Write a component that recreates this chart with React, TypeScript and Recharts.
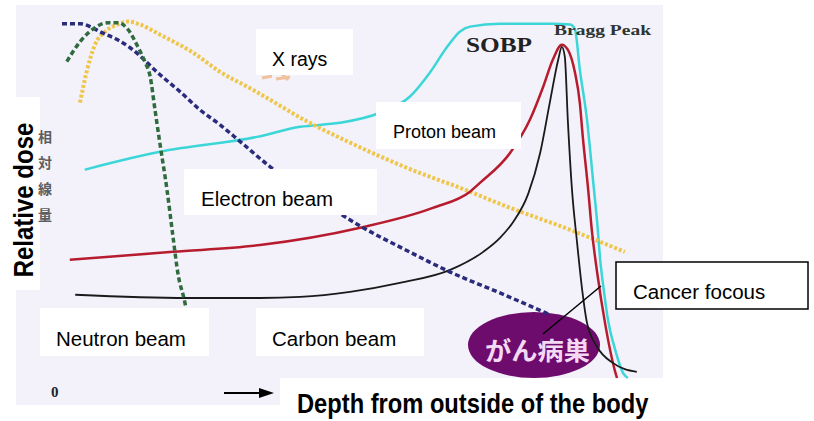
import { LineChart, Line, XAxis, YAxis } from "recharts"

// depth (0-100) vs relative dose (0-100)
const xrayDepth = [3, 4.2, 5.5, 7.2, 9.3, 11, 13, 16.3, 21.8, 26.3, 31.8, 41.3, 48, 57.5, 68, 73, 84.7, 93.8]
const xrayDose = [76.4, 85.6, 92.5, 96.1, 98.1, 98.9, 98.1, 95.3, 90.3, 85, 80, 70.8, 65.3, 58.3, 51.7, 48.3, 41.1, 35]

const electronDepth = [0, 3, 4.7, 6.3, 9.2, 11.3, 16.3, 19.7, 23, 26.3, 29.7, 34.7, 41.3, 50.2, 57.2, 64.7, 73, 78.8, 81]
const electronDose = [98.3, 98.3, 97.5, 96.1, 93.9, 91.7, 84.2, 79.4, 74.4, 70.3, 65.6, 58.6, 51.1, 41.7, 35.6, 29.4, 23.6, 19.4, 17.8]

const neutronDepth = [0.8, 3, 5.5, 7.7, 9.3, 11, 12.7, 13.8, 14.7, 15.5, 16.3, 17.5, 18.5, 19.3, 20.5, 21.3]
const neutronDose = [87.8, 93.3, 97.2, 98.6, 98.6, 96.7, 91.7, 87.8, 83.6, 74.4, 65.3, 52.2, 39.2, 29.2, 20.8, 13.3]

const sobpDepth = [3.8, 6.3, 16.3, 32.5, 39.7, 46.3, 53, 58, 61.3, 64.2, 66.3, 68, 73, 81.8, 84.7, 85.5, 86.3, 87.5, 88.5, 89.2, 89.7, 90.3, 91, 92.2, 93.5, 94.3]
const sobpDose = [57.8, 58.9, 62.8, 66.9, 69.7, 70.8, 73.6, 78.1, 84.7, 91.9, 96.1, 97.5, 98.3, 98.3, 98.1, 96.7, 85.6, 71.7, 55, 43.1, 32.8, 24.4, 16.1, 7.8, 1.4, 0]

const protonDepth = [1.3, 18.5, 33, 49.7, 61.8, 68, 69.7, 74.7, 78, 80.2, 81.8, 83.3, 84.3, 85.5, 86.3, 86.8, 87.7, 88.3, 89.2, 90.5, 92.2, 92.5]
const protonDose = [32.8, 35, 36.9, 41.7, 47.2, 51.7, 54.2, 62.5, 71.7, 80.8, 88.3, 92.5, 91.1, 84.7, 76.4, 66.9, 52.2, 41.1, 29.2, 15.3, 1.7, 0]

const carbonDepth = [2.2, 20.8, 33, 39.7, 48, 56.3, 64.7, 70.2, 73, 75.2, 77.7, 79.7, 81.3, 82.7, 83.3, 83.8, 84.3, 85, 85.8, 86.7, 87.5, 89.2, 91.8, 95.8]
const carbonDose = [23.1, 22.2, 22.2, 22.5, 23.9, 26.4, 30, 35, 38.9, 43.3, 51.1, 62.5, 76.4, 88.3, 91.9, 89.2, 71.7, 52.2, 38.3, 24.4, 15.3, 8.6, 4.2, 1.7]

const zip = (xs: number[], ys: number[]) => xs.map((x, i) => ({ x, y: ys[i] }))

const sans = "Arial, 'Liberation Sans', sans-serif"
const serif = "'Times New Roman', 'Liberation Serif', serif"

function Box({ x, y, w, h, border }: { x: number; y: number; w: number; h: number; border?: boolean }) {
  return <rect x={x} y={y} width={w} height={h} fill="#fff" stroke={border ? "#000" : "none"} strokeWidth={1.5} />
}

export default function App() {
  return (
    <div style={{ position: "absolute", left: 0, top: 0, width: 814, height: 421, background: "#fff" }}>
      <svg width={814} height={421} style={{ position: "absolute", left: 0, top: 0 }}>
        <rect x={16} y={5} width={647} height={373} fill="#f3f2fb" />
        <rect x={16} y={378} width={264} height={27} fill="#f3f2fb" />
        <rect x={0} y={97} width={40} height={193} fill="#fff" />
        {["相", "対", "線", "量"].map((c, i) => (
          <text key={c} x={38} y={142 + i * 26} fontSize={14} fill="#444" opacity={0.85} fontFamily="'Noto Sans CJK JP'" fontWeight="bold">
            {c}
          </text>
        ))}
        <ellipse cx={534} cy={345} rx={66} ry={33} fill="#6e0c6e" />
      </svg>

      <div style={{ position: "absolute", left: 0, top: 0 }}>
        <LineChart width={814} height={421} margin={{ top: 14, right: 152, bottom: 43, left: 62 }}>
          <XAxis dataKey="x" type="number" domain={[0, 100]} tick={false} height={0} axisLine={{ stroke: "#999", strokeWidth: 2 }} tickLine={false} />
          <YAxis type="number" domain={[0, 101]} tick={false} width={0} axisLine={{ stroke: "#999", strokeWidth: 2 }} tickLine={false} />
          <Line data={zip(sobpDepth, sobpDose)} dataKey="y" type="monotone" stroke="#3cd6d8" strokeWidth={2.5} dot={false} isAnimationActive={false} />
          <Line data={zip(xrayDepth, xrayDose)} dataKey="y" type="monotone" stroke="#efc64c" strokeWidth={4} strokeDasharray="3 2" dot={false} isAnimationActive={false} />
          <Line data={zip(protonDepth, protonDose)} dataKey="y" type="monotone" stroke="#b71c2e" strokeWidth={2.5} dot={false} isAnimationActive={false} />
          <Line data={zip(carbonDepth, carbonDose)} dataKey="y" type="monotone" stroke="#1a1a1a" strokeWidth={1.8} dot={false} isAnimationActive={false} />
          <Line data={zip(electronDepth, electronDose)} dataKey="y" type="monotone" stroke="#2b2b7c" strokeWidth={3.5} strokeDasharray="5 3" dot={false} isAnimationActive={false} />
          <Line data={zip(neutronDepth, neutronDose)} dataKey="y" type="monotone" stroke="#2f6b3c" strokeWidth={3.5} strokeDasharray="5 3" dot={false} isAnimationActive={false} />
        </LineChart>
      </div>

      <svg width={814} height={421} style={{ position: "absolute", left: 0, top: 0 }}>
        <path d="M262 78 L272 76 M276 79 L290 77 M282 74 L288 80" stroke="#f0a060" strokeWidth={3} opacity={0.6} />
        <Box x={256} y={29} w={97} h={46} />
        <Box x={376} y={102} w={145} h={47} />
        <Box x={184} y={169} w={193} h={46} />
        <Box x={40} y={308} w={169} h={48} />
        <Box x={256} y={308} w={168} h={48} />
        <Box x={616} y={262} w={192} h={47} border />
        <g fontFamily={sans} fill="#000">
          <text x={272} y={66} fontSize={19.5}>X rays</text>
          <text x={393} y={138} fontSize={18}>Proton beam</text>
          <text x={201} y={206} fontSize={20.5}>Electron beam</text>
          <text x={56} y={346} fontSize={20.5}>Neutron beam</text>
          <text x={272} y={346} fontSize={20.5}>Carbon beam</text>
          <text x={633} y={299} fontSize={20.5}>Cancer focous</text>
          <text transform="translate(297,413) scale(1,1.18)" fontSize={23.7} fontWeight="bold">Depth from outside of the body</text>
          <text transform="translate(33,200) rotate(-90) scale(1,1.18)" fontSize={24} fontWeight="bold" textAnchor="middle">Relative dose</text>
        </g>
        <g fontFamily={serif} fontWeight="bold" fill="#222">
          <text x={466} y={52} fontSize={21} textLength={66} lengthAdjust="spacingAndGlyphs">SOBP</text>
          <text x={554} y={35} fontSize={15} textLength={97} lengthAdjust="spacingAndGlyphs" fill="#2d3530">Bragg Peak</text>
          <text x={51} y={397} fontSize={15}>0</text>
        </g>
        <text x={485} y={360} fontSize={25} fontWeight="bold" fill="#f3d9f3" textLength={105} lengthAdjust="spacingAndGlyphs" fontFamily="'Noto Sans CJK JP'">がん病巣</text>
        <line x1={543} y1={334} x2={601} y2={286} stroke="#000" strokeWidth={1.5} />
        <line x1={224} y1={393} x2={262} y2={393} stroke="#000" strokeWidth={2} />
        <polygon points="259,388 274,393 259,398" fill="#000" />
      </svg>
    </div>
  )
}
